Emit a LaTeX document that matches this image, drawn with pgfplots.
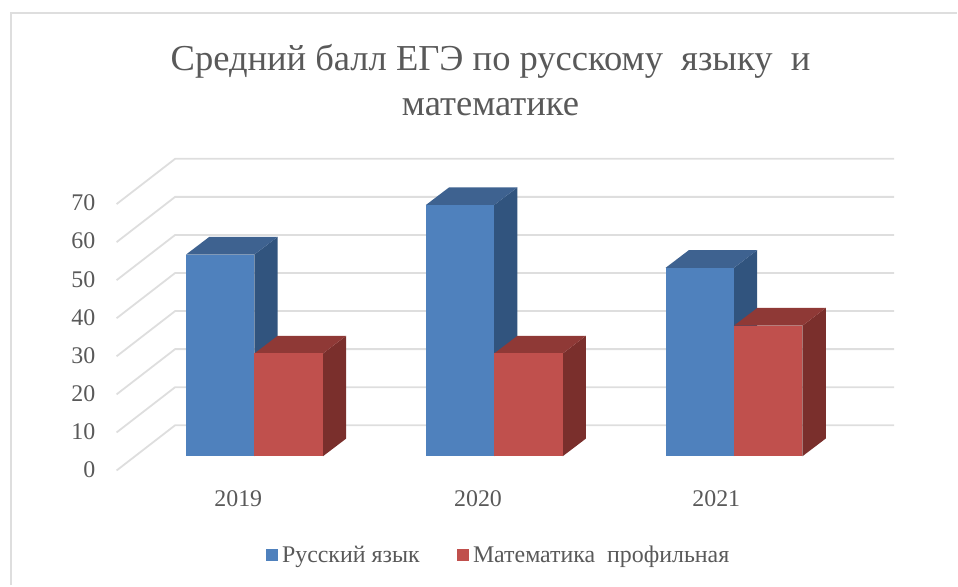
\documentclass[border=0pt]{standalone}
\usepackage{pgfplots}
\pgfplotsset{compat=1.18}
\usepackage{fontspec}
\setmainfont{Liberation Serif}
\definecolor{blueF}{HTML}{4F81BD}
\definecolor{blueT}{HTML}{3E6290}
\definecolor{blueS}{HTML}{31547E}
\definecolor{redF}{HTML}{C0504D}
\definecolor{redT}{HTML}{8F3936}
\definecolor{redS}{HTML}{7A2F2C}
\definecolor{txt}{HTML}{595959}
\definecolor{gridc}{HTML}{DEDEDE}
\begin{document}
\begin{tikzpicture}[x=1bp,y=1bp]
\begin{axis}[
  scale only axis, width=958bp, height=471bp,
  xmin=0, xmax=958, ymin=-3.75, ymax=119.87,
  clip=false,
  axis line style={draw=none},
  tick style={draw=none},
  xtick={238.5,478.5,717}, xticklabels={2019,2020,2021},
  ytick={-3.75,6.25,16.25,26.25,36.25,46.25,56.25,66.25},
  yticklabels={0,10,20,30,40,50,60,70},
  /pgf/number format/assume math mode=true,
  xticklabel style={font=\fontsize{24}{24}\selectfont, text=txt, yshift=-17bp},
  yticklabel style={font=\fontsize{24}{24}\selectfont, text=txt, anchor=east, xshift=99bp, yshift=1bp},
  legend columns=2,
  legend style={at={(axis cs:499,-25.9)}, anchor=center, draw=none, fill=none,
    font=\fontsize{24}{24}\selectfont, text=txt,
    /tikz/every even column/.append style={column sep=35bp}},
  legend cell align=left,
]
% page extent
\addplot[forget plot, draw=none, fill=none] coordinates {(0,-33.94)(958,-33.94)(958,119.87)(0,119.87)} -- cycle;
% frame
\addplot[forget plot, gridc, line width=2bp] coordinates {(11.5,-33.94)(11.5,116.5)(958,116.5)};
% grid
\addplot[forget plot, gridc, line width=1.8bp] coordinates {(116.7,-3.75)(175.3,8.14)(895,8.14)};
\addplot[forget plot, gridc, line width=1.8bp] coordinates {(116.7,6.25)(175.3,18.14)(895,18.14)};
\addplot[forget plot, gridc, line width=1.8bp] coordinates {(116.7,16.25)(175.3,28.14)(895,28.14)};
\addplot[forget plot, gridc, line width=1.8bp] coordinates {(116.7,26.25)(175.3,38.14)(895,38.14)};
\addplot[forget plot, gridc, line width=1.8bp] coordinates {(116.7,36.25)(175.3,48.14)(895,48.14)};
\addplot[forget plot, gridc, line width=1.8bp] coordinates {(116.7,46.25)(175.3,58.14)(895,58.14)};
\addplot[forget plot, gridc, line width=1.8bp] coordinates {(116.7,56.25)(175.3,68.14)(895,68.14)};
\addplot[forget plot, gridc, line width=1.8bp] coordinates {(116.7,66.25)(175.3,78.14)(895,78.14)};
% 2019
\addplot[forget plot, draw=none, fill=blueS] coordinates {(254.7,0)(278,4.65)(278,57.65)(254.7,53)} -- cycle;
\addplot[forget plot, draw=none, fill=blueT] coordinates {(186.3,53)(254.7,53)(278,57.65)(209.6,57.65)} -- cycle;
\addplot[forget plot, draw=none, fill=blueF] coordinates {(186.3,0)(254.7,0)(254.7,53)(186.3,53)} -- cycle;
\addplot[forget plot, draw=none, fill=redS] coordinates {(323.3,0)(346.6,4.65)(346.6,31.65)(323.3,27)} -- cycle;
\addplot[forget plot, draw=none, fill=redT] coordinates {(254.7,27)(323.3,27)(346.6,31.65)(278,31.65)} -- cycle;
\addplot[forget plot, draw=none, fill=redF] coordinates {(254.7,0)(323.3,0)(323.3,27)(254.7,27)} -- cycle;
% 2020
\addplot[forget plot, draw=none, fill=blueS] coordinates {(494.7,0)(518,4.65)(518,70.65)(494.7,66)} -- cycle;
\addplot[forget plot, draw=none, fill=blueT] coordinates {(426.3,66)(494.7,66)(518,70.65)(449.6,70.65)} -- cycle;
\addplot[forget plot, draw=none, fill=blueF] coordinates {(426.3,0)(494.7,0)(494.7,66)(426.3,66)} -- cycle;
\addplot[forget plot, draw=none, fill=redS] coordinates {(563.3,0)(586.6,4.65)(586.6,31.65)(563.3,27)} -- cycle;
\addplot[forget plot, draw=none, fill=redT] coordinates {(494.7,27)(563.3,27)(586.6,31.65)(518,31.65)} -- cycle;
\addplot[forget plot, draw=none, fill=redF] coordinates {(494.7,0)(563.3,0)(563.3,27)(494.7,27)} -- cycle;
% 2021
\addplot[forget plot, draw=none, fill=blueS] coordinates {(734.7,0)(758,4.65)(758,54.15)(734.7,49.5)} -- cycle;
\addplot[forget plot, draw=none, fill=blueT] coordinates {(666.3,49.5)(734.7,49.5)(758,54.15)(689.6,54.15)} -- cycle;
\addplot[forget plot, draw=none, fill=blueF] coordinates {(666.3,0)(734.7,0)(734.7,49.5)(666.3,49.5)} -- cycle;
\addplot[forget plot, draw=none, fill=redS] coordinates {(803.3,0)(826.6,4.65)(826.6,38.95)(803.3,34.3)} -- cycle;
\addplot[forget plot, draw=none, fill=redT] coordinates {(734.7,34.3)(803.3,34.3)(826.6,38.95)(758,38.95)} -- cycle;
\addplot[forget plot, draw=none, fill=redF] coordinates {(734.7,0)(803.3,0)(803.3,34.3)(734.7,34.3)} -- cycle;
\addlegendimage{legend image code/.code={\fill[blueF] (0bp,-5.5bp) rectangle (11bp,5.5bp); \path (14bp,0bp);}}
\addlegendentry{Русский язык}
\addlegendimage{legend image code/.code={\fill[redF] (0bp,-5.5bp) rectangle (11bp,5.5bp); \path (14bp,0bp);}}
\addlegendentry{Математика\ \ профильная}
\node[align=center, text=txt, font=\fontsize{36.7}{45}\selectfont] at (axis cs:491,98.9) {Средний балл ЕГЭ по русскому\ \ языку\ \ и\\математике};
\end{axis}
\end{tikzpicture}
\end{document}
